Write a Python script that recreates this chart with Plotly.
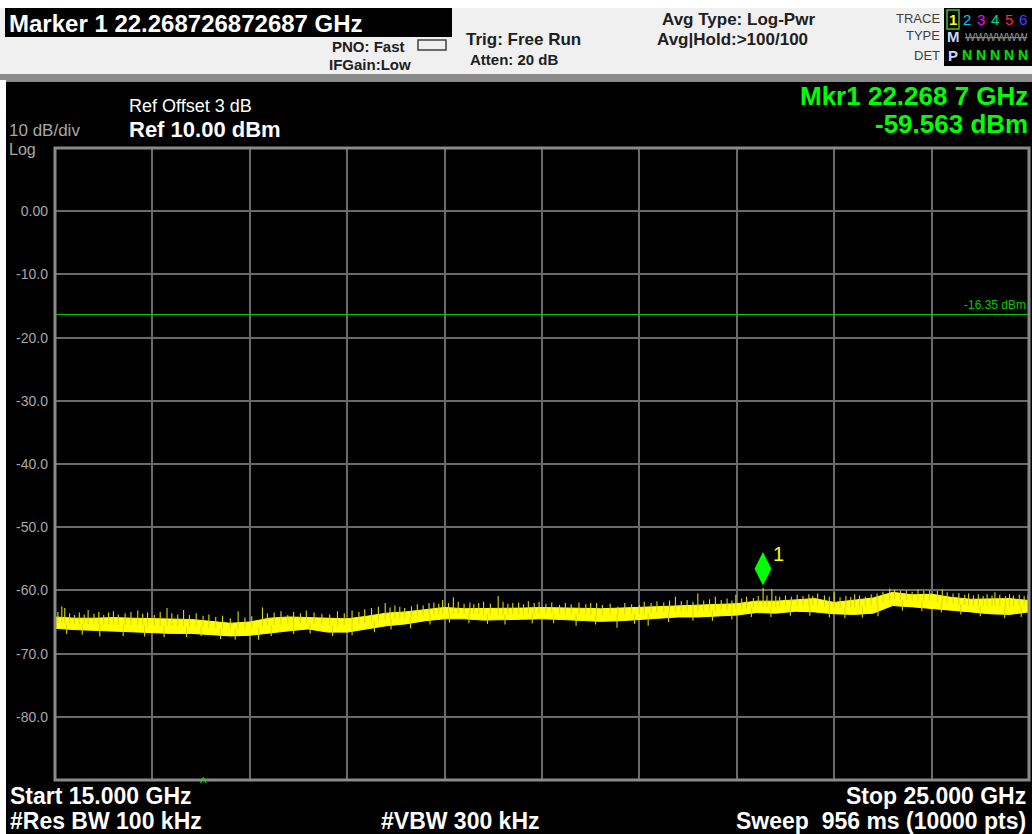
import numpy as np
import plotly.graph_objects as go

W, H = 1032, 834
L, R, T, B = 55, 3, 148, 54

# band edges of the averaged trace (GHz, dBm), read every 0.2 GHz
freq = [15.0, 15.2, 15.4, 15.6, 15.8, 16.0, 16.2, 16.4, 16.6, 16.8,
        17.0, 17.2, 17.4, 17.6, 17.8, 18.0, 18.2, 18.4, 18.6, 18.8,
        19.0, 19.2, 19.4, 19.6, 19.8, 20.0, 20.2, 20.4, 20.6, 20.8,
        21.0, 21.2, 21.4, 21.6, 21.8, 22.0, 22.2, 22.4, 22.6, 22.8,
        23.0, 23.2, 23.4, 23.6, 23.8, 24.0, 24.2, 24.4, 24.6, 24.8, 25.0]
band_top = [-64.2, -64.4, -64.4, -64.3, -64.4, -64.5, -64.5, -64.6, -64.9, -65.2,
            -65.0, -64.4, -64.2, -64.3, -64.5, -64.5, -64.1, -63.6, -63.4, -63.0,
            -62.7, -62.9, -62.9, -62.9, -62.8, -62.7, -62.8, -62.9, -62.9, -62.8,
            -62.7, -62.5, -62.4, -62.4, -62.3, -62.1, -61.7, -61.7, -61.5, -61.3,
            -61.9, -61.6, -61.2, -60.3, -60.7, -60.6, -61.1, -61.4, -61.3, -61.3, -61.6]
band_bot = [-66.0, -66.2, -66.3, -66.5, -66.6, -66.7, -66.8, -66.8, -67.0, -67.2,
            -67.1, -66.7, -66.4, -66.1, -66.6, -66.6, -66.1, -65.6, -65.3, -64.8,
            -64.5, -64.5, -64.7, -64.7, -64.6, -64.5, -64.6, -64.7, -64.9, -64.8,
            -64.7, -64.4, -64.2, -64.2, -64.1, -63.9, -63.5, -63.6, -63.3, -63.4,
            -63.7, -63.8, -63.6, -62.4, -62.6, -62.8, -63.1, -63.4, -63.7, -63.8, -63.4]

# noise spikes sticking out of the band (GHz, dBm)
spike_f = [15.03, 15.07, 15.10, 15.15, 15.20, 15.25, 15.30, 15.34, 15.40, 15.45,
           15.50, 15.55, 15.60, 15.65, 15.72, 15.78, 15.85, 15.90, 15.95, 16.02,
           16.08, 16.15, 16.20, 16.26, 16.32, 16.38, 16.45, 16.52, 16.58, 16.65,
           16.72, 16.80, 16.88, 16.95, 17.02, 17.13, 17.18, 17.25, 17.32, 17.39,
           17.45, 17.52, 17.58, 17.66, 17.74, 17.82, 17.90, 17.97, 18.05, 18.12,
           18.18, 18.25, 18.32, 18.39, 18.44, 18.49, 18.54, 18.59, 18.66, 18.72,
           18.78, 18.84, 18.89, 18.94, 18.98, 19.04, 19.09, 19.14, 19.20, 19.26,
           19.30, 19.35, 19.40, 19.47, 19.55, 19.60, 19.65, 19.70, 19.76, 19.81,
           19.86, 19.92, 19.97, 20.04, 20.10, 20.18, 20.24, 20.30, 20.38, 20.45,
           20.50, 20.56, 20.62, 20.70, 20.78, 20.85, 20.92, 21.00, 21.05, 21.12,
           21.18, 21.25, 21.31, 21.37, 21.43, 21.49, 21.55, 21.60, 21.66, 21.72,
           21.78, 21.84, 21.90, 21.95, 21.99, 22.05, 22.10, 22.17, 22.22, 22.27,
           22.31, 22.36, 22.40, 22.44, 22.50, 22.56, 22.62, 22.68, 22.74, 22.78,
           22.83, 22.90, 22.95, 23.00, 23.06, 23.12, 23.17, 23.21, 23.26, 23.32,
           23.38, 23.44, 23.50, 23.57, 23.62, 23.68, 23.74, 23.80, 23.86, 23.92,
           23.98, 24.06, 24.11, 24.16, 24.22, 24.28, 24.34, 24.38, 24.43, 24.48,
           24.53, 24.57, 24.62, 24.65, 24.70, 24.76, 24.80, 24.84, 24.90, 24.95, 24.99,
           15.12, 15.28, 15.46, 15.70, 15.92, 16.12, 16.35, 16.50, 16.70, 16.85,
           17.09, 17.22, 17.45, 17.62, 17.85, 18.05, 18.28, 18.45, 18.65, 18.85,
           19.05, 19.25, 19.44, 19.62, 19.90, 20.12, 20.35, 20.55, 20.77, 20.95,
           21.09, 21.30, 21.55, 21.75, 21.95, 22.15, 22.35, 22.55, 22.75, 22.95,
           23.11, 23.29, 23.45, 23.70, 23.90, 24.10, 24.30, 24.50, 24.75, 24.92]
spike_v = [-63.4, -62.5, -62.8, -63.6, -63.9, -63.5, -63.8, -63.1, -63.7, -63.4,
           -63.9, -63.5, -63.3, -63.8, -63.6, -63.4, -63.2, -63.7, -63.5, -63.9,
           -63.4, -62.8, -63.6, -63.8, -63.1, -63.9, -63.6, -64.0, -63.8, -64.2,
           -64.0, -64.4, -63.3, -64.3, -64.1, -62.7, -63.6, -63.5, -63.3, -63.9,
           -63.4, -63.6, -63.2, -63.5, -63.7, -63.8, -63.3, -63.6, -63.2, -63.4,
           -63.0, -62.8, -62.6, -62.0, -62.7, -62.4, -62.6, -62.8, -62.5, -62.2,
           -62.4, -62.0, -61.9, -62.1, -61.5, -62.0, -61.1, -61.8, -62.1, -61.9,
           -62.2, -62.0, -61.8, -62.1, -60.9, -61.8, -62.1, -62.0, -61.9, -62.2,
           -61.7, -62.0, -61.8, -62.1, -61.9, -62.3, -62.0, -62.2, -61.9, -62.2,
           -62.0, -62.0, -62.3, -62.1, -62.6, -62.0, -62.2, -62.3, -61.8, -62.0,
           -61.7, -61.9, -61.6, -61.0, -61.7, -61.5, -61.8, -60.5, -61.6, -61.4,
           -61.0, -61.5, -61.3, -61.6, -60.7, -61.3, -61.0, -61.2, -60.9, -59.6,
           -60.8, -59.8, -60.9, -61.0, -60.8, -61.0, -60.7, -60.9, -60.6, -60.9,
           -60.5, -60.8, -61.0, -60.3, -61.1, -60.9, -61.0, -60.6, -60.8, -61.0,
           -60.6, -60.5, -60.2, -59.7, -59.9, -60.1, -60.0, -60.2, -59.9, -60.1,
           -60.0, -60.1, -59.9, -60.3, -60.5, -60.4, -60.7, -60.5, -60.8, -60.6,
           -60.9, -60.6, -60.8, -60.3, -60.7, -60.9, -60.6, -60.8, -60.7, -60.9, -60.6,
           -66.9, -67.0, -67.3, -67.2, -67.3, -67.4, -67.4, -67.2, -67.7, -67.8,
           -67.8, -67.2, -66.9, -66.8, -67.2, -67.1, -66.6, -66.2, -66.0, -65.4,
           -65.1, -65.2, -65.3, -65.4, -65.2, -65.2, -65.6, -65.4, -65.9, -65.3,
           -65.6, -65.0, -64.8, -64.8, -64.6, -64.2, -64.2, -64.0, -64.0, -64.3,
           -64.4, -64.3, -64.1, -63.2, -63.3, -63.5, -63.8, -64.1, -64.4, -64.2]

y_ticks = [10, 0, -10, -20, -30, -40, -50, -60, -70, -80, -90]
y_labels = ["", "0.00", "-10.0", "-20.0", "-30.0", "-40.0", "-50.0", "-60.0", "-70.0", "-80.0", ""]
x_ticks = [15, 16, 17, 18, 19, 20, 21, 22, 23, 24, 25]

mkr_f, mkr_v = 22.268726872687, -59.563
display_line = -16.35

PW, PH = W - L - R, H - T - B


def px(x):
    return (x - L) / PW


def py(y):
    return (H - B - y) / PH


fig = go.Figure()

#  Band as filled area between the edges
fig.add_trace(go.Scatter(x=freq + freq[::-1], y=band_top + band_bot[::-1], fill="toself",
                         fillcolor="#ffff00", line=dict(color="#ffff00", width=1),
                         mode="lines", hoverinfo="skip", showlegend=False))
#  Spikes from the middle of the band
mid = (np.interp(spike_f, freq, band_top) + np.interp(spike_f, freq, band_bot)) / 2
sx, sy = [], []
for f, v, m in zip(spike_f, spike_v, mid):
    sx += [f, f, None]
    sy += [m, v, None]
fig.add_trace(go.Scatter(x=sx, y=sy, mode="lines", line=dict(color="#dada00", width=1.1),
                         hoverinfo="skip", showlegend=False))

#  Display line
fig.add_hline(y=display_line, line_color="#00c800", line_width=1)

#  Marker diamond
fig.add_trace(go.Scatter(x=[mkr_f], y=[mkr_v + 3.0], mode="markers",
                         marker=dict(symbol="diamond-tall", size=24, color="#00ff00",
                                     line=dict(width=0)),
                         hoverinfo="skip", showlegend=False))

fig.update_xaxes(range=[15, 25], tickvals=x_ticks, showticklabels=False,
                 showgrid=True, gridcolor="#6a6a6a", gridwidth=1.5, zeroline=False)
fig.update_yaxes(range=[-90, 10], tickvals=y_ticks, ticktext=y_labels,
                 showgrid=True, gridcolor="#6a6a6a", gridwidth=1.5, zeroline=False,
                 tickfont=dict(color="#a8a8a8", size=14, family="Liberation Sans"),
                 ticks="", ticklabelstandoff=6)


def rect(x0, y0, x1, y1, fill, line=None, layer="above"):
    d = dict(type="rect", xref="paper", yref="paper", x0=px(x0), x1=px(x1), y0=py(y1), y1=py(y0),
             fillcolor=fill, layer=layer)
    if line:
        d["line"] = line
    else:
        d["line_width"] = 0
    return d


shapes = [
    rect(0, 0, 1, 1, "rgba(0,0,0,0)"),
    rect(0, 0, W, 80, "#f0f0f0"),
    rect(0, 0, W, 8, "#ffffff"),
    rect(5, 8, 452, 37, "#000000"),
    rect(944, 8, W, 66, "#000000"),
    rect(947, 10, 959, 29, "rgba(0,0,0,0)", line=dict(color="#40c040", width=1.5)),
    rect(0, 74, W, 82, "#8a8a8a"),
    rect(0, 80, 6, H, "#ffffff"),
    rect(418, 40, 446, 50, "rgba(0,0,0,0)", line=dict(color="#404040", width=1.5)),
    dict(type="rect", xref="paper", yref="paper", x0=0, x1=1, y0=0, y1=1,
         line=dict(color="#8a8a8a", width=3), fillcolor="rgba(0,0,0,0)", layer="above"),
]

ann = []


def text(x, y, s, size, color, bold=False, xa="left", ya="middle"):
    ann.append(dict(x=px(x), y=py(y), xref="paper", yref="paper", text=f"<b>{s}</b>" if bold else s,
                    showarrow=False, xanchor=xa, yanchor=ya, borderpad=0,
                    font=dict(family="Liberation Sans, Arial", size=size, color=color)))


text(8, 23, "Marker 1 22.268726872687 GHz", 24, "#ffffff", bold=True)
text(406, 46, "PNO: Fast", 15, "#202020", bold=True, xa="right")
text(412, 65, "IFGain:Low", 15, "#202020", bold=True, xa="right")
text(465, 40, "Trig: Free Run", 17, "#202020", bold=True)
text(469, 60, "Atten: 20 dB", 15, "#202020", bold=True)
text(738, 19, "Avg Type: Log-Pwr", 17, "#202020", bold=True, xa="center")
text(732, 40, "Avg|Hold:>100/100", 17, "#202020", bold=True, xa="center")
text(941, 18, "TRACE", 13, "#404040", xa="right")
text(941, 36, "TYPE", 13, "#404040", xa="right")
text(941, 56, "DET", 13, "#404040", xa="right")
for i, (n, c) in enumerate(zip("123456", ["#ffff00", "#00c8ff", "#ff00ff", "#00d890", "#ff2050", "#5040ff"])):
    text(953 + 14 * i, 19, n, 15, c, bold=(i == 0), xa="center")
text(953, 37, "M", 15, "#c8d8ff", bold=True, xa="center")
text(996, 37, "<s>WWWWWW</s>", 11, "#909090", xa="center")
text(953, 55, "P", 15, "#c8d8ff", bold=True, xa="center")
for i in range(5):
    text(967 + 14 * i, 55, "N", 14, "#00e000", bold=True, xa="center")
text(128, 106, "Ref Offset 3 dB", 18, "#ffffff")
text(128, 129, "Ref 10.00 dBm", 22, "#ffffff", bold=True)
text(8, 130, "10 dB/div", 17, "#a8a8a8")
text(8, 149, "Log", 16, "#a8a8a8")
text(1029, 96, "Mkr1 22.268 7 GHz", 26, "#00ff00", bold=True, xa="right")
text(1029, 124, f"{mkr_v:.3f} dBm", 26, "#00ff00", bold=True, xa="right")
text(1027, 305, f"{display_line:.2f} dBm", 12, "#00c800", xa="right")
text(772, 554, "1", 20, "#ffff00")
text(203, 783, "^", 14, "#00e000", xa="center")
text(9, 796, "Start 15.000 GHz", 23, "#ffffff", bold=True)
text(9, 821, "#Res BW 100 kHz", 23, "#ffffff", bold=True)
text(380, 821, "#VBW 300 kHz", 23, "#ffffff", bold=True)
text(1027, 796, "Stop 25.000 GHz", 23, "#ffffff", bold=True, xa="right")
text(1027, 821, "Sweep  956 ms (10000 pts)", 23, "#ffffff", bold=True, xa="right")

fig.update_layout(width=W, height=H, margin=dict(l=L, r=R, t=T, b=B, autoexpand=False),
                  paper_bgcolor="#000000", plot_bgcolor="#000000",
                  shapes=shapes, annotations=ann, showlegend=False,
                  font=dict(family="Liberation Sans, Arial"))

fig.write_html("out.html", config={"displayModeBar": False},
               post_script="document.body.style.margin='0';document.body.style.overflow='hidden';")
